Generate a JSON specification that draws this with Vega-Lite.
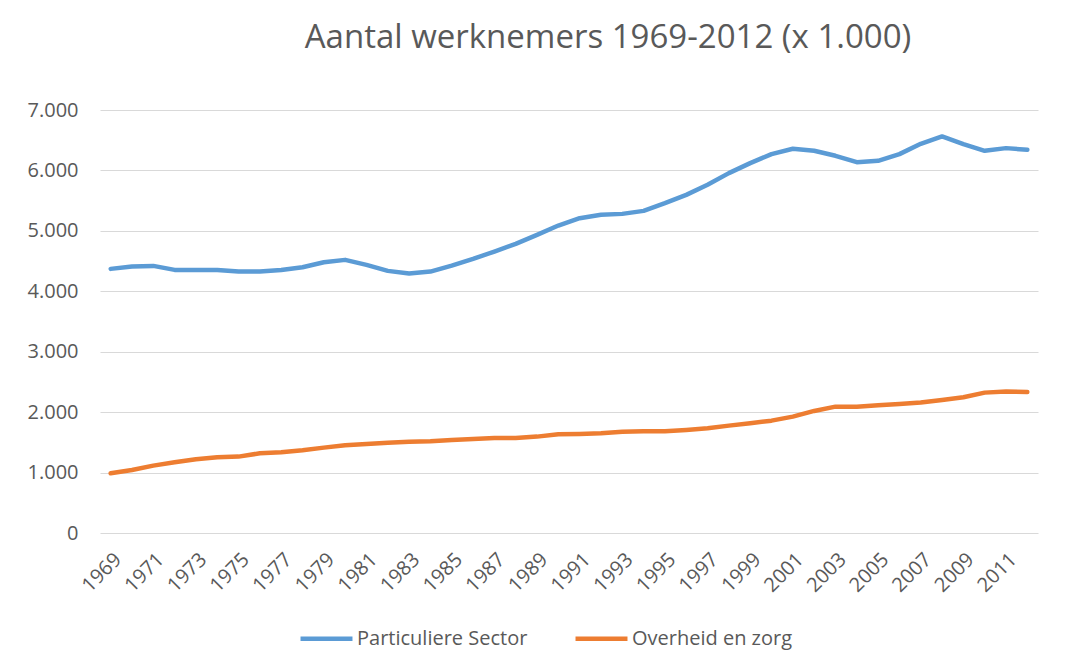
{
  "$schema": "https://vega.github.io/schema/vega-lite/v6.json",
  "width": 938,
  "height": 423,
  "autosize": {"type": "none"},
  "padding": {"left": 100, "top": 110, "right": 28, "bottom": 136},
  "background": "white",
  "title": {
    "text": "Aantal werknemers 1969-2012 (x 1.000)",
    "anchor": "middle",
    "dx": 39,
    "offset": 45,
    "fontSize": 33,
    "font": "Open Sans",
    "fontWeight": "normal",
    "color": "#595959"
  },
  "data": {
    "values": [
      {"jaar": 1969, "sector": "Particuliere Sector", "waarde": 4371},
      {"jaar": 1970, "sector": "Particuliere Sector", "waarde": 4410},
      {"jaar": 1971, "sector": "Particuliere Sector", "waarde": 4420},
      {"jaar": 1972, "sector": "Particuliere Sector", "waarde": 4354},
      {"jaar": 1973, "sector": "Particuliere Sector", "waarde": 4354},
      {"jaar": 1974, "sector": "Particuliere Sector", "waarde": 4354},
      {"jaar": 1975, "sector": "Particuliere Sector", "waarde": 4326},
      {"jaar": 1976, "sector": "Particuliere Sector", "waarde": 4326},
      {"jaar": 1977, "sector": "Particuliere Sector", "waarde": 4354},
      {"jaar": 1978, "sector": "Particuliere Sector", "waarde": 4398},
      {"jaar": 1979, "sector": "Particuliere Sector", "waarde": 4480},
      {"jaar": 1980, "sector": "Particuliere Sector", "waarde": 4520},
      {"jaar": 1981, "sector": "Particuliere Sector", "waarde": 4437},
      {"jaar": 1982, "sector": "Particuliere Sector", "waarde": 4338},
      {"jaar": 1983, "sector": "Particuliere Sector", "waarde": 4294},
      {"jaar": 1984, "sector": "Particuliere Sector", "waarde": 4326},
      {"jaar": 1985, "sector": "Particuliere Sector", "waarde": 4426},
      {"jaar": 1986, "sector": "Particuliere Sector", "waarde": 4536},
      {"jaar": 1987, "sector": "Particuliere Sector", "waarde": 4658},
      {"jaar": 1988, "sector": "Particuliere Sector", "waarde": 4785},
      {"jaar": 1989, "sector": "Particuliere Sector", "waarde": 4934},
      {"jaar": 1990, "sector": "Particuliere Sector", "waarde": 5088},
      {"jaar": 1991, "sector": "Particuliere Sector", "waarde": 5210},
      {"jaar": 1992, "sector": "Particuliere Sector", "waarde": 5265},
      {"jaar": 1993, "sector": "Particuliere Sector", "waarde": 5281},
      {"jaar": 1994, "sector": "Particuliere Sector", "waarde": 5331},
      {"jaar": 1995, "sector": "Particuliere Sector", "waarde": 5458},
      {"jaar": 1996, "sector": "Particuliere Sector", "waarde": 5596},
      {"jaar": 1997, "sector": "Particuliere Sector", "waarde": 5762},
      {"jaar": 1998, "sector": "Particuliere Sector", "waarde": 5955},
      {"jaar": 1999, "sector": "Particuliere Sector", "waarde": 6121},
      {"jaar": 2000, "sector": "Particuliere Sector", "waarde": 6270},
      {"jaar": 2001, "sector": "Particuliere Sector", "waarde": 6358},
      {"jaar": 2002, "sector": "Particuliere Sector", "waarde": 6325},
      {"jaar": 2003, "sector": "Particuliere Sector", "waarde": 6242},
      {"jaar": 2004, "sector": "Particuliere Sector", "waarde": 6137},
      {"jaar": 2005, "sector": "Particuliere Sector", "waarde": 6159},
      {"jaar": 2006, "sector": "Particuliere Sector", "waarde": 6270},
      {"jaar": 2007, "sector": "Particuliere Sector", "waarde": 6440},
      {"jaar": 2008, "sector": "Particuliere Sector", "waarde": 6562},
      {"jaar": 2009, "sector": "Particuliere Sector", "waarde": 6435},
      {"jaar": 2010, "sector": "Particuliere Sector", "waarde": 6325},
      {"jaar": 2011, "sector": "Particuliere Sector", "waarde": 6369},
      {"jaar": 2012, "sector": "Particuliere Sector", "waarde": 6341},
      {"jaar": 1969, "sector": "Overheid en zorg", "waarde": 988},
      {"jaar": 1970, "sector": "Overheid en zorg", "waarde": 1043},
      {"jaar": 1971, "sector": "Overheid en zorg", "waarde": 1115},
      {"jaar": 1972, "sector": "Overheid en zorg", "waarde": 1170},
      {"jaar": 1973, "sector": "Overheid en zorg", "waarde": 1220},
      {"jaar": 1974, "sector": "Overheid en zorg", "waarde": 1253},
      {"jaar": 1975, "sector": "Overheid en zorg", "waarde": 1264},
      {"jaar": 1976, "sector": "Overheid en zorg", "waarde": 1319},
      {"jaar": 1977, "sector": "Overheid en zorg", "waarde": 1336},
      {"jaar": 1978, "sector": "Overheid en zorg", "waarde": 1369},
      {"jaar": 1979, "sector": "Overheid en zorg", "waarde": 1413},
      {"jaar": 1980, "sector": "Overheid en zorg", "waarde": 1452},
      {"jaar": 1981, "sector": "Overheid en zorg", "waarde": 1474},
      {"jaar": 1982, "sector": "Overheid en zorg", "waarde": 1495},
      {"jaar": 1983, "sector": "Overheid en zorg", "waarde": 1512},
      {"jaar": 1984, "sector": "Overheid en zorg", "waarde": 1518},
      {"jaar": 1985, "sector": "Overheid en zorg", "waarde": 1540},
      {"jaar": 1986, "sector": "Overheid en zorg", "waarde": 1556},
      {"jaar": 1987, "sector": "Overheid en zorg", "waarde": 1573},
      {"jaar": 1988, "sector": "Overheid en zorg", "waarde": 1573},
      {"jaar": 1989, "sector": "Overheid en zorg", "waarde": 1595},
      {"jaar": 1990, "sector": "Overheid en zorg", "waarde": 1634},
      {"jaar": 1991, "sector": "Overheid en zorg", "waarde": 1640},
      {"jaar": 1992, "sector": "Overheid en zorg", "waarde": 1650},
      {"jaar": 1993, "sector": "Overheid en zorg", "waarde": 1677},
      {"jaar": 1994, "sector": "Overheid en zorg", "waarde": 1683},
      {"jaar": 1995, "sector": "Overheid en zorg", "waarde": 1683},
      {"jaar": 1996, "sector": "Overheid en zorg", "waarde": 1705},
      {"jaar": 1997, "sector": "Overheid en zorg", "waarde": 1733},
      {"jaar": 1998, "sector": "Overheid en zorg", "waarde": 1777},
      {"jaar": 1999, "sector": "Overheid en zorg", "waarde": 1816},
      {"jaar": 2000, "sector": "Overheid en zorg", "waarde": 1859},
      {"jaar": 2001, "sector": "Overheid en zorg", "waarde": 1926},
      {"jaar": 2002, "sector": "Overheid en zorg", "waarde": 2020},
      {"jaar": 2003, "sector": "Overheid en zorg", "waarde": 2091},
      {"jaar": 2004, "sector": "Overheid en zorg", "waarde": 2091},
      {"jaar": 2005, "sector": "Overheid en zorg", "waarde": 2114},
      {"jaar": 2006, "sector": "Overheid en zorg", "waarde": 2136},
      {"jaar": 2007, "sector": "Overheid en zorg", "waarde": 2158},
      {"jaar": 2008, "sector": "Overheid en zorg", "waarde": 2202},
      {"jaar": 2009, "sector": "Overheid en zorg", "waarde": 2246},
      {"jaar": 2010, "sector": "Overheid en zorg", "waarde": 2323},
      {"jaar": 2011, "sector": "Overheid en zorg", "waarde": 2340},
      {"jaar": 2012, "sector": "Overheid en zorg", "waarde": 2334}
    ]
  },
  "mark": {"type": "line", "strokeWidth": 4.5, "interpolate": "linear", "strokeCap": "round", "strokeJoin": "round"},
  "encoding": {
    "x": {
      "field": "jaar",
      "type": "ordinal",
      "scale": {"type": "point", "padding": 0.5},
      "axis": {
        "title": null,
        "values": [1969, 1971, 1973, 1975, 1977, 1979, 1981, 1983, 1985, 1987, 1989, 1991, 1993, 1995, 1997, 1999, 2001, 2003, 2005, 2007, 2009, 2011],
        "labelAngle": -45,
        "labelFontSize": 20,
        "labelFont": "Open Sans",
        "labelColor": "#595959",
        "labelPadding": 16,
        "labelDx": 5,
        "labelOverlap": false,
        "ticks": false,
        "domain": false,
        "grid": false
      }
    },
    "y": {
      "field": "waarde",
      "type": "quantitative",
      "scale": {"domain": [0, 7000], "nice": false},
      "axis": {
        "title": null,
        "values": [0, 1000, 2000, 3000, 4000, 5000, 6000, 7000],
        "labelExpr": "replace(format(datum.value, ','), ',', '.')",
        "labelFontSize": 20,
        "labelFont": "Open Sans",
        "labelColor": "#595959",
        "labelPadding": 22,
        "ticks": false,
        "domain": false,
        "grid": true,
        "gridColor": "#d9d9d9",
        "gridWidth": 1.2
      }
    },
    "color": {
      "field": "sector",
      "type": "nominal",
      "scale": {"domain": ["Particuliere Sector", "Overheid en zorg"], "range": ["#5b9bd5", "#ed7d31"]},
      "legend": {
        "title": null,
        "orient": "none",
        "direction": "horizontal",
        "legendX": 198,
        "legendY": 500,
        "symbolType": "stroke",
        "symbolStrokeWidth": 4.5,
        "symbolSize": 2700,
        "labelFontSize": 20,
        "labelFont": "Open Sans",
        "labelColor": "#595959",
        "labelOffset": 2,
        "labelLimit": 400,
        "columnPadding": 38
      }
    }
  },
  "config": {
    "view": {"stroke": null}
  }
}
